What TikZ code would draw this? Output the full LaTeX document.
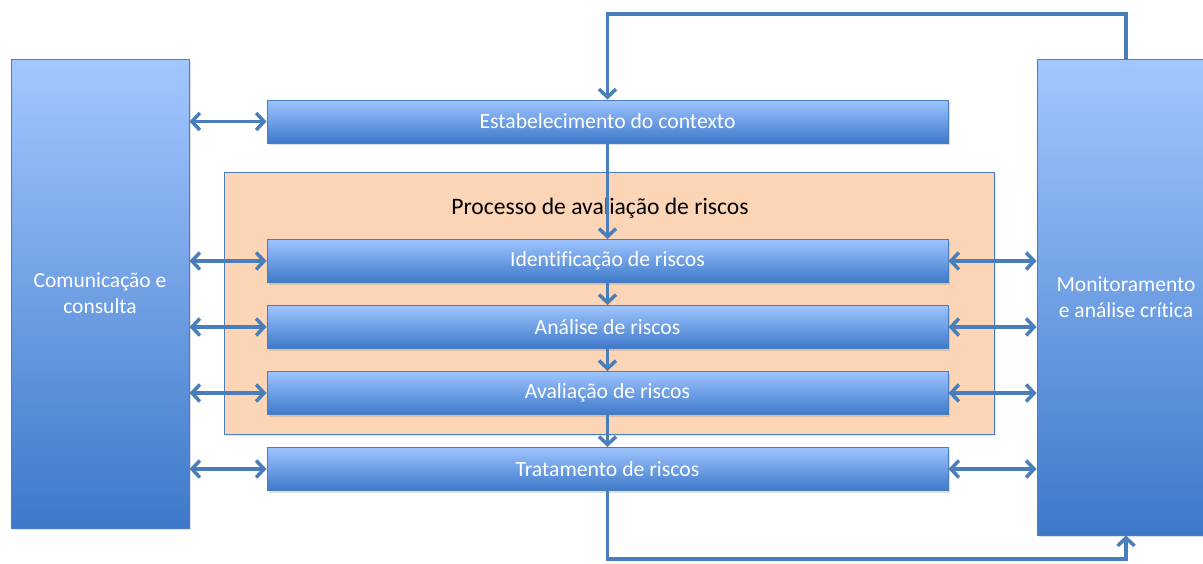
\documentclass[tikz,border=0pt]{standalone}
\usepackage{fontspec}
\setmainfont{Carlito}[Ligatures=CommonOff]
\usetikzlibrary{arrows.meta,positioning,shadows}
\definecolor{linieblau}{RGB}{74,126,187}
\definecolor{hellblau}{RGB}{158,196,255}
\definecolor{dunkelblau}{RGB}{61,121,201}
\definecolor{prozessfarbe}{RGB}{251,213,181}

\begin{document}
\begin{tikzpicture}[x=1pt,y=-1pt,
      schritt/.style={rectangle, draw=linieblau, line width=1pt, top color=hellblau, bottom color=dunkelblau, inner sep=0pt, minimum width=681pt, minimum height=43pt, text=white, font=\fontsize{21.7}{26}\selectfont, drop shadow={opacity=0.25, shadow xshift=2pt, shadow yshift=-2pt}},
      seite/.style={schritt, minimum width=178pt, align=center, font=\fontsize{21.5}{26}\selectfont, top color=hellblau!95!white, bottom color=dunkelblau},
      pfeil/.style={-{Straight Barb[length=8pt,width=17pt]}, draw=linieblau, line width=3.5pt},
      doppelpfeil/.style={{Straight Barb[length=8pt,width=17pt]}-{Straight Barb[length=8pt,width=17pt]}, draw=linieblau, line width=3.5pt}]

\useasboundingbox (0,0) rectangle (1203,563);

\node[rectangle, draw=linieblau, line width=1pt, fill=prozessfarbe, minimum width=770pt, minimum height=262pt, drop shadow={opacity=0.2, shadow xshift=2pt, shadow yshift=-2pt}] (prozess) at (609,303) {};
\node[font=\fontsize{23.6}{28}\selectfont] (titel) at (600,208) {Processo de avaliação de riscos};

\node[seite, minimum height=469pt] (kom) at (100,293.5) {Comunicação e\\consulta};
\node[seite, minimum height=476pt] (mon) at (1126,297) {Monitoramento\\e análise crítica};

\node[schritt] (ctx) at (607.5,121.5) {Estabelecimento do contexto};
\node[schritt] (ident) at (607.5,261) {Identificação de riscos};
\node[schritt] (anal) at (607.5,327) {Análise de riscos};
\node[schritt] (aval) at (607.5,393) {Avaliação de riscos};
\node[schritt] (trat) at (607.5,469) {Tratamento de riscos};

\coordinate (oben) at (607.5,14);
\coordinate (unten) at (607.5,559);

% Ablauf
\draw[pfeil] (ctx) -- (ident);
\draw[pfeil] (ident) -- (anal);
\draw[pfeil] (anal) -- (aval);
\draw[pfeil] (aval) -- (trat);
\draw[pfeil] (mon.north) |- (oben) -- (ctx.north);
\draw[pfeil] (trat.south) -- (unten) -| (mon.south);

% Kommunikation
\draw[doppelpfeil] (kom.east |- ctx) -- (ctx.west);
\draw[doppelpfeil] (kom.east |- ident) -- (ident.west);
\draw[doppelpfeil] (kom.east |- anal) -- (anal.west);
\draw[doppelpfeil] (kom.east |- aval) -- (aval.west);
\draw[doppelpfeil] (kom.east |- trat) -- (trat.west);

% Monitoramento
\draw[doppelpfeil] (ident.east) -- (mon.west |- ident);
\draw[doppelpfeil] (anal.east) -- (mon.west |- anal);
\draw[doppelpfeil] (aval.east) -- (mon.west |- aval);
\draw[doppelpfeil] (trat.east) -- (mon.west |- trat);

\end{tikzpicture}
\end{document}
